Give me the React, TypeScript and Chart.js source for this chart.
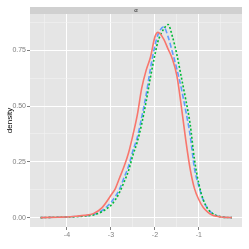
import React, { useEffect, useRef } from "react";
import { Chart, registerables } from "chart.js";

Chart.register(...registerables);

const xs = [-4.6, -4.4, -4.2, -4.0, -3.8, -3.6, -3.4, -3.2, -3.0, -2.9, -2.8, -2.7, -2.6, -2.5, -2.4, -2.3, -2.2, -2.1, -2.0, -1.93, -1.8, -1.7, -1.6, -1.5, -1.4, -1.3, -1.2, -1.1, -1.0, -0.9, -0.8, -0.7, -0.6, -0.5, -0.4, -0.25];
const redVals = [0.000, 0.001, 0.002, 0.003, 0.006, 0.010, 0.018, 0.045, 0.10, 0.13, 0.18, 0.23, 0.29, 0.37, 0.46, 0.58, 0.66, 0.72, 0.81, 0.83, 0.80, 0.755, 0.71, 0.635, 0.50, 0.35, 0.22, 0.13, 0.08, 0.045, 0.025, 0.012, 0.006, 0.003, 0.001, 0.000];
const blueVals = [0.000, 0.001, 0.002, 0.003, 0.005, 0.008, 0.014, 0.032, 0.068, 0.095, 0.13, 0.18, 0.23, 0.30, 0.36, 0.45, 0.55, 0.67, 0.77, 0.82, 0.855, 0.81, 0.74, 0.665, 0.58, 0.48, 0.37, 0.22, 0.14, 0.078, 0.04, 0.02, 0.009, 0.004, 0.001, 0.000];
const greenVals = [0.000, 0.001, 0.002, 0.003, 0.004, 0.007, 0.012, 0.027, 0.055, 0.08, 0.115, 0.16, 0.21, 0.28, 0.34, 0.42, 0.52, 0.63, 0.73, 0.79, 0.845, 0.865, 0.81, 0.73, 0.63, 0.53, 0.42, 0.26, 0.15, 0.08, 0.04, 0.02, 0.009, 0.004, 0.001, 0.000];

const xMajor = [-4, -3, -2, -1];
const xMinor = [-4.5, -3.5, -2.5, -1.5, -0.5];
const yMajor = [0, 0.25, 0.5, 0.75];
const yMinor = [0.125, 0.375, 0.625, 0.875];
const yLabels = ["0.00", "0.25", "0.50", "0.75"];
const stripLabel = "α";
const yTitle = "density";

const FONT = "'Liberation Sans', Arial, sans-serif";

export default function App() {
  const ref = useRef<HTMLCanvasElement>(null);
  useEffect(() => {
    const prev = document.body.style.margin;
    document.body.style.margin = "0";
    const mk = (vals: number[]) => xs.map((x, i) => ({ x, y: vals[i] }));
    const allX = [...xMajor, ...xMinor].sort((a, b) => a - b);
    const allY = [...yMajor, ...yMinor].sort((a, b) => a - b);
    const isMajor = (arr: number[], v: number) => arr.some((m) => Math.abs(m - v) < 1e-9);

    const bgPlugin = {
      id: "panelbg",
      beforeDraw(chart: any) {
        const { ctx, chartArea } = chart;
        ctx.save();
        ctx.fillStyle = "#FFFFFF";
        ctx.fillRect(0, 0, chart.width, chart.height);
        ctx.fillStyle = "#E5E5E5";
        ctx.fillRect(chartArea.left, chartArea.top, chartArea.right - chartArea.left, chartArea.bottom - chartArea.top);
        ctx.fillStyle = "#D0D0D0";
        ctx.fillRect(chartArea.left, chartArea.top - 7, chartArea.right - chartArea.left, 7);
        ctx.fillStyle = "#1A1A1A";
        ctx.font = `6px ${FONT}`;
        ctx.textAlign = "center";
        ctx.textBaseline = "middle";
        ctx.fillText(stripLabel, (chartArea.left + chartArea.right) / 2, chartArea.top - 3.5);
        ctx.restore();
      },
    };

    const common = { pointRadius: 0, cubicInterpolationMode: "monotone" as const, fill: false, borderWidth: 1.6 };
    const chart = new Chart(ref.current!, {
      type: "line",
      data: {
        datasets: [
          { ...common, data: mk(redVals), borderColor: "#F8766D" },
          { ...common, data: mk(greenVals), borderColor: "#00BA38", borderDash: [2, 2] },
          { ...common, data: mk(blueVals), borderColor: "#619CFF", borderDash: [5, 2.5] },
        ],
      },
      options: {
        animation: false,
        responsive: false,
        events: [],
        layout: { padding: { top: 14, right: 7, left: 0, bottom: 0 } },
        plugins: { legend: { display: false }, tooltip: { enabled: false } },
        scales: {
          x: {
            type: "linear",
            min: -4.84,
            max: -0.02,
            border: { display: false },
            afterBuildTicks: (s: any) => { s.ticks = allX.map((v) => ({ value: v })); },
            afterFit: (s: any) => { s.height = 22; },
            grid: {
              color: (c: any) => (isMajor(xMajor, c.tick?.value) ? "#FFFFFF" : "#F2F2F2"),
              lineWidth: (c: any) => (isMajor(xMajor, c.tick?.value) ? 1 : 0.6),
              tickColor: (c: any) => (isMajor(xMajor, c.tick?.value) ? "#7F7F7F" : "rgba(0,0,0,0)"),
              tickLength: 3,
              drawTicks: true,
            },
            ticks: {
              autoSkip: false,
              maxRotation: 0,
              padding: 1,
              color: "#7F7F7F",
              font: { size: 7, family: FONT },
              callback: (v: any) => (isMajor(xMajor, v) ? String(v) : ""),
            },
          },
          y: {
            type: "linear",
            min: -0.042,
            max: 0.9125,
            border: { display: false },
            afterBuildTicks: (s: any) => { s.ticks = allY.map((v) => ({ value: v })); },
            afterFit: (s: any) => { s.width = 30; },
            grid: {
              color: (c: any) => (isMajor(yMajor, c.tick?.value) ? "#FFFFFF" : "#F2F2F2"),
              lineWidth: (c: any) => (isMajor(yMajor, c.tick?.value) ? 1 : 0.6),
              tickColor: (c: any) => (isMajor(yMajor, c.tick?.value) ? "#7F7F7F" : "rgba(0,0,0,0)"),
              tickLength: 3,
              drawTicks: true,
            },
            ticks: {
              autoSkip: false,
              padding: 1,
              color: "#7F7F7F",
              font: { size: 7, family: FONT },
              callback: (v: any) => {
                const i = yMajor.findIndex((m) => Math.abs(m - v) < 1e-9);
                return i >= 0 ? yLabels[i] : "";
              },
            },
            title: {
              display: true,
              text: yTitle,
              color: "#000000",
              font: { size: 8, family: FONT },
              padding: { top: 5, bottom: 0 },
            },
          },
        },
      },
      plugins: [bgPlugin],
    });
    return () => {
      chart.destroy();
      document.body.style.margin = prev;
    };
  }, []);
  return <canvas ref={ref} width={249} height={249} style={{ display: "block" }} />;
}
